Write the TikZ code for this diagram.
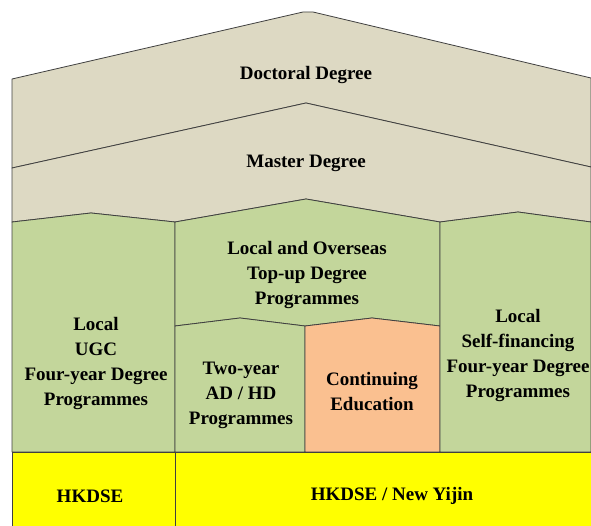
\documentclass[tikz,border=0pt]{standalone}
\usepackage{fontspec}
\setmainfont{Liberation Serif}
\usepackage{tikz}

\definecolor{roofgray}{HTML}{DDD9C3}
\definecolor{progreen}{HTML}{C3D69B}
\definecolor{ceorange}{HTML}{FAC090}
\definecolor{dseyellow}{HTML}{FFFF00}

\tikzset{
  part/.style={draw=black!75, line width=0.8pt, line join=round},
  lbl/.style={font=\fontsize{19}{25}\selectfont\bfseries, align=center, inner sep=0pt}
}

\begin{document}
\begin{tikzpicture}[x=1pt, y=-1pt]
\useasboundingbox (0,0) rectangle (591,526);
% roof: doctoral and master
\filldraw [part, fill=roofgray] (12,79) -- (303,12) -- (313,12) -- (591,78) -- (591,167) -- (306,103) -- (12,168) -- cycle;
\filldraw [part, fill=roofgray] (12,168) -- (306,103) -- (591,167) -- (591,222) -- (518,212) -- (440,222) -- (306,199) -- (175,222) -- (91,213) -- (12,222) -- cycle;
% degree programmes
\filldraw [part, fill=progreen] (12,222) -- (91,213) -- (175,222) -- (175,452) -- (12,452) -- cycle;
\filldraw [part, fill=progreen] (175,222) -- (306,199) -- (440,222) -- (440,326) -- (372,318) -- (305,326) -- (240,318) -- (175,326) -- cycle;
\filldraw [part, fill=progreen] (175,326) -- (240,318) -- (305,326) -- (305,452) -- (175,452) -- cycle;
\filldraw [part, fill=ceorange] (305,326) -- (372,318) -- (440,326) -- (440,452) -- (305,452) -- cycle;
\filldraw [part, fill=progreen] (440,222) -- (518,212) -- (591,222) -- (591,452) -- (440,452) -- cycle;
% entry
\filldraw [part, fill=dseyellow] (12,452) rectangle (175,530);
\filldraw [part, fill=dseyellow] (175,452) rectangle (595,530);

\node [lbl] (doctoral) at (306,75) {Doctoral Degree};
\node [lbl] (master) at (306,163) {Master Degree};
\node [lbl] (ugc) at (96,364) {Local\\UGC\\Four-year Degree\\Programmes};
\node [lbl] (topup) at (307,275) {Local and Overseas\\Top-up Degree\\Programmes};
\node [lbl] (adhd) at (241,395) {Two-year\\AD / HD\\Programmes};
\node [lbl] (cont) at (372,392) {Continuing\\Education};
\node [lbl] (selffin) at (518,356) {Local\\Self-financing\\Four-year Degree\\Programmes};
\node [lbl] (dse) at (90,496) {HKDSE};
\node [lbl] (yijin) at (392,496) {HKDSE / New Yijin};
\end{tikzpicture}
\end{document}
